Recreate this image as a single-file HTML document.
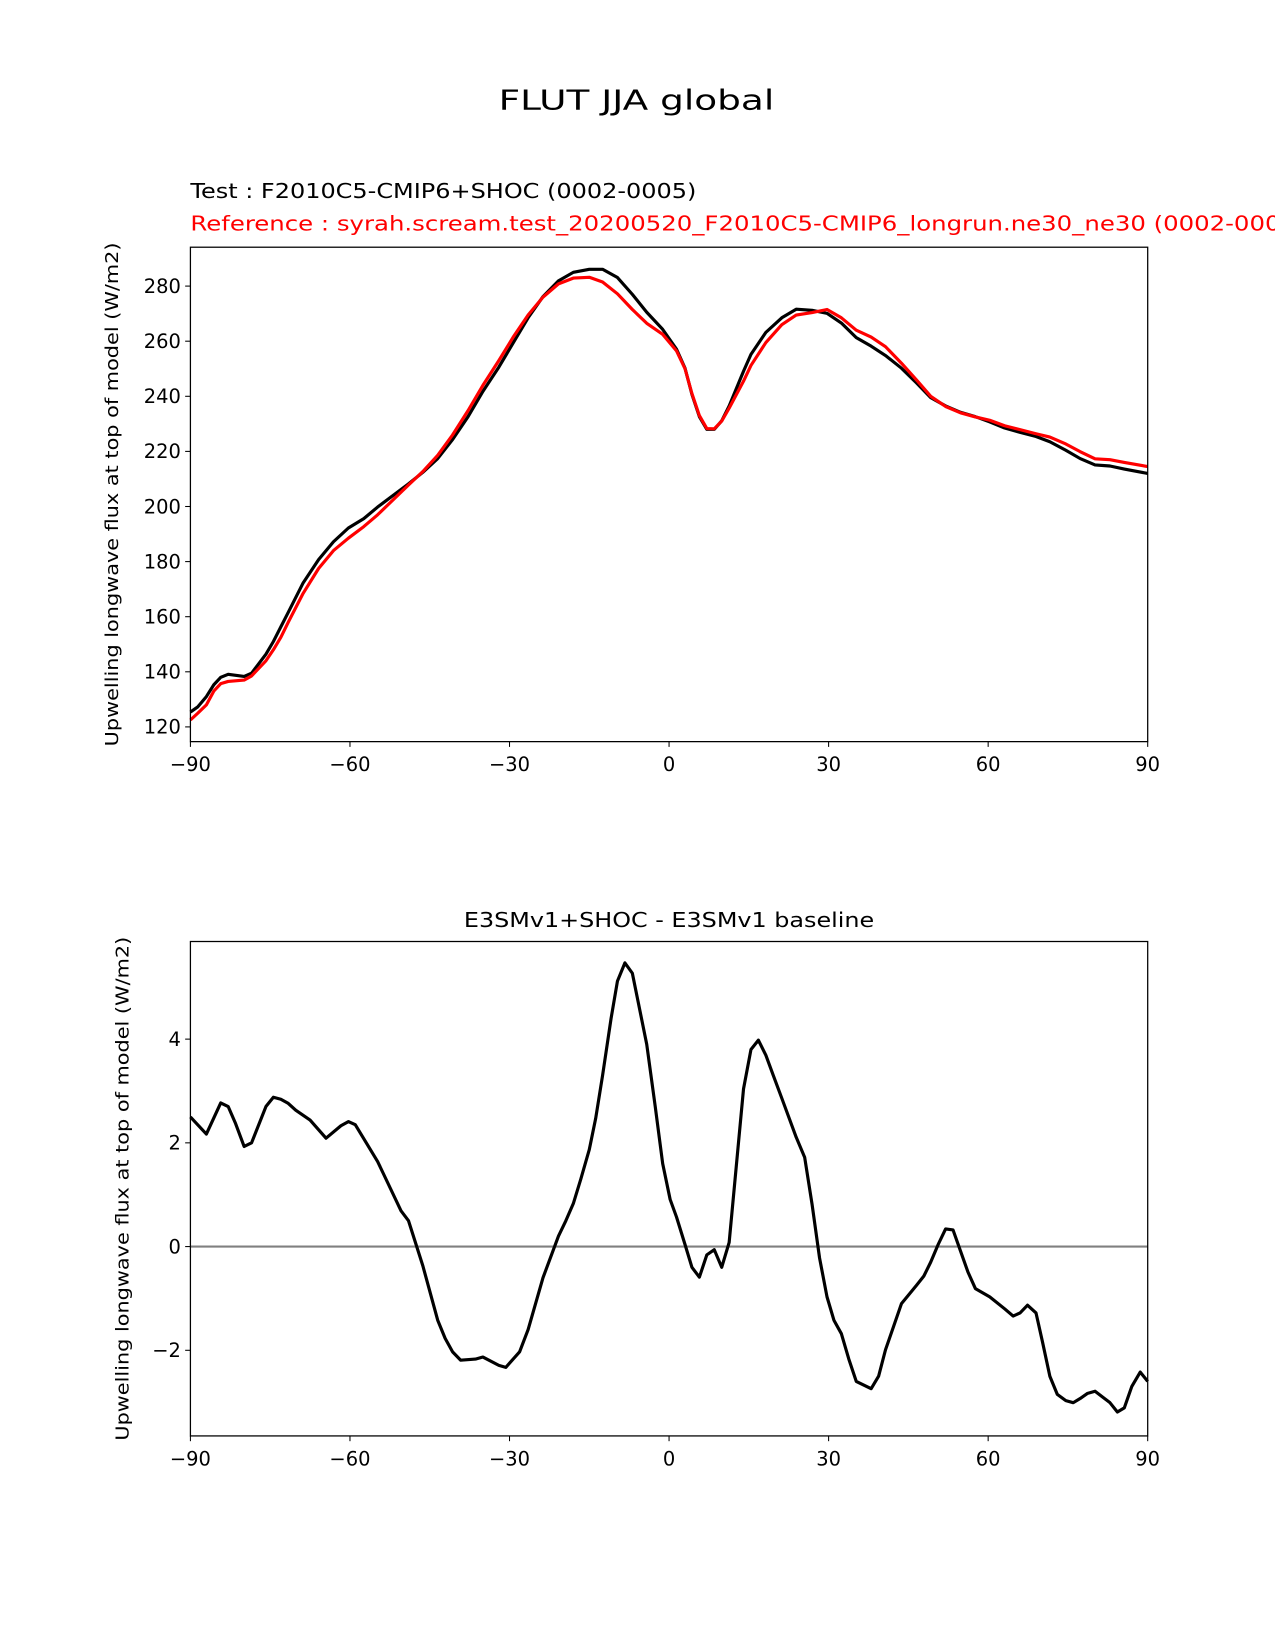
<!DOCTYPE html>
<html><head><meta charset="utf-8"><style>html,body{margin:0;padding:0;background:#fff}svg{display:block}</style></head>
<body>
<svg id="fig" width="1275" height="1650" viewBox="0 0 1212 1568.5" xmlns="http://www.w3.org/2000/svg" font-family="'DejaVu Sans','Liberation Sans',sans-serif">
<rect x="0" y="0" width="1212" height="1568.5" fill="#fff"/>
<text x="605" y="104" font-size="26" text-anchor="middle" textLength="262" lengthAdjust="spacingAndGlyphs">FLUT JJA global</text>
<text x="181" y="188" font-size="19" textLength="481" lengthAdjust="spacingAndGlyphs">Test : F2010C5-CMIP6+SHOC (0002-0005)</text>
<text x="181" y="219" font-size="19" fill="#ff0000" textLength="1060" lengthAdjust="spacingAndGlyphs">Reference : syrah.scream.test_20200520_F2010C5-CMIP6_longrun.ne30_ne30 (0002-0006)</text>
<text x="636" y="881" font-size="19" text-anchor="middle" textLength="390" lengthAdjust="spacingAndGlyphs">E3SMv1+SHOC - E3SMv1 baseline</text>
<g id="top"></g>
<g id="bot"></g>
</svg>
<script>
const lats = [-90,-88.6,-87,-85.6,-84.3,-82.9,-79.9,-78.5,-75.8,-74.4,-73,-71.6,-68.8,-65.9,-63.1,-60.3,-57.4,-54.8,-49,-46.3,-43.5,-40.7,-37.8,-35,-32,-29.3,-26.5,-23.7,-20.8,-18,-15,-12.5,-9.7,-6.9,-4.2,-1.2,1.4,3,4.3,5.7,7.1,8.5,9.9,11.3,14,15.4,18.2,21.2,23.9,26.9,29.7,32.4,35.2,38,40.7,43.7,46.5,49.2,52,54.8,57.6,60.3,63.1,66,69,71.6,74.6,77.3,80.1,82.9,85.6,90];
const testVals = [125.4,127.3,131,135.3,138,139.1,138.3,139.5,146.4,151,156.3,161.6,172.3,180.7,187.2,192.2,195.6,199.8,208.2,212.4,217.4,224.3,232.6,241.8,250.6,259.4,268.5,276.2,281.9,285,286.1,286.1,283.1,277,270.5,264.3,257.1,250.2,240.7,232.6,228,228,231.1,236.5,249.1,255.2,263.2,268.5,271.6,271.2,270.1,266.6,261.3,258.2,254.8,250.2,244.9,239.5,236.5,234.2,232.6,230.7,228.5,226.9,225.4,223.5,220.4,217.4,215.1,214.7,213.6,212];
const refVals = [122.5,125,128,133,135.7,136.5,137,138.5,144,148,152.5,158,168.5,177.5,184,188.5,192.7,197,207.8,212.7,218.6,226,234.8,244,253,261.5,269.5,276,280.8,282.9,283.2,281.5,277.2,271.5,266.5,262.5,256.5,250,241,233,228.3,228.2,231,235.7,245.5,251.2,259.5,266,269.5,270.4,271.5,268.5,264,261.5,258,252,246,240,236.3,234,232.5,231.3,229.3,227.9,226.4,225.2,222.7,219.9,217.3,217,216,214.5];
const diffLats = [-90,-87,-84.3,-82.9,-81.5,-79.9,-78.5,-75.8,-74.4,-73,-71.6,-70.2,-67.5,-64.5,-61.7,-60.3,-59,-54.8,-50.4,-49,-46.3,-43.5,-42.1,-40.7,-39.2,-36.4,-35,-32,-30.7,-28.1,-26.5,-23.7,-20.8,-19.4,-18,-16.6,-15,-13.8,-12.5,-10.9,-9.7,-8.3,-6.9,-4.2,-2.6,-1.2,0.2,1.4,3,4.3,5.7,7.1,8.5,9.9,11.3,14,15.4,16.8,18.2,19.6,21.2,23.9,25.5,26.9,28.3,29.7,31,32.4,33.8,35.2,38,39.4,40.7,43.7,46.5,47.9,49.2,50.6,52,53.4,56.2,57.6,60.3,63.1,64.7,66,67.4,69,70.2,71.6,73,74.6,76,77.3,78.7,80.1,82.9,84.3,85.6,87,88.6,90];
const diffVals = [2.5,2.17,2.77,2.7,2.37,1.93,2.0,2.7,2.88,2.84,2.76,2.63,2.44,2.09,2.33,2.41,2.35,1.64,0.69,0.5,-0.37,-1.42,-1.77,-2.03,-2.19,-2.17,-2.13,-2.29,-2.33,-2.03,-1.6,-0.6,0.2,0.5,0.83,1.3,1.87,2.47,3.3,4.4,5.12,5.47,5.27,3.9,2.7,1.6,0.91,0.57,0.04,-0.4,-0.59,-0.16,-0.06,-0.4,0.08,3.04,3.8,3.98,3.69,3.3,2.86,2.11,1.72,0.81,-0.22,-0.97,-1.42,-1.68,-2.17,-2.6,-2.74,-2.5,-1.99,-1.1,-0.75,-0.57,-0.3,0.04,0.34,0.32,-0.49,-0.81,-0.97,-1.2,-1.34,-1.28,-1.13,-1.28,-1.83,-2.5,-2.85,-2.97,-3.01,-2.93,-2.83,-2.79,-3.01,-3.19,-3.11,-2.7,-2.42,-2.6];
const xTicks = [-90,-60,-30,0,30,60,90];
const xTickLabels = ['\u221290','\u221260','\u221230','0','30','60','90'];
const topYTicks = [120,140,160,180,200,220,240,260,280];
const botYTicks = [-2,0,2,4];
const botYTickLabels = ['\u22122','0','2','4'];

const NS='http://www.w3.org/2000/svg';
function mk(parent,tag,attrs){const e=document.createElementNS(NS,tag);for(const k in attrs)e.setAttribute(k,attrs[k]);parent.appendChild(e);return e;}
const X0=181,X1=1091;
function xs(v){return X0+(v+90)/180*(X1-X0);}

function axes(g,top,bot,ymin,ymax,yt,ytl,ylabelX){
  const ys=v=>bot-(v-ymin)/(ymax-ymin)*(bot-top);
  xTicks.forEach((t,i)=>{
    const l=mk(g,'line',{x1:xs(t),x2:xs(t),y1:bot,y2:bot+5,stroke:'#000','stroke-width':1});
    
    
    const tx=mk(g,'text',{x:xs(t),y:bot+28,'font-size':18.5,'text-anchor':'middle'});
    tx.textContent=xTickLabels[i];
    
    
  });
  yt.forEach((t,i)=>{
    const l=mk(g,'line',{x1:X0-5,x2:X0,y1:ys(t),y2:ys(t),stroke:'#000','stroke-width':1});
    
    
    const tx=mk(g,'text',{x:X0-9,y:ys(t)+6.5,'font-size':18.5,'text-anchor':'end'});
    tx.textContent=ytl?ytl[i]:String(t);
    
    
  });
  const cy=(top+bot)/2;
  const yl=mk(g,'text',{x:ylabelX,y:cy,'font-size':17,'text-anchor':'middle',transform:`rotate(-90 ${ylabelX} ${cy})`,textLength:479,lengthAdjust:'spacingAndGlyphs'});
  yl.textContent='Upwelling longwave flux at top of model (W/m2)';
  
  
  return ys;
}
function line(g,xa,ya,ys,color,name){
  const d=xa.map((x,i)=>(i?'L':'M')+xs(x).toFixed(2)+' '+ys(ya[i]).toFixed(2)).join(' ');
  const p=mk(g,'path',{d:d,fill:'none',stroke:color,'stroke-width':3,'stroke-linejoin':'round'});
  
  
}
function frame(g,top,bot){
  const r=mk(g,'rect',{x:X0,y:top,width:X1-X0,height:bot-top,fill:'none',stroke:'#000','stroke-width':1.2});
  
  
}
const gt=document.getElementById('top');
const T0=235,T1=705;
const ysT=axes(gt,T0,T1,120-(705-691)/2.619,120+(691-235)/2.619,topYTicks,null,112);
line(gt,lats,testVals,ysT,'#000','test-line');
line(gt,lats,refVals,ysT,'#ff0000','reference-line');
frame(gt,T0,T1);
const gb=document.getElementById('bot');
const B0=895,B1=1365;
const ysB=axes(gb,B0,B1,-(1365-1185)/49.3,(1185-895)/49.3,botYTicks,botYTickLabels,122);
const z=mk(gb,'line',{x1:X0,x2:X1,y1:ysB(0),y2:ysB(0),stroke:'#808080','stroke-width':2});


line(gb,diffLats,diffVals,ysB,'#000','difference-line');
frame(gb,B0,B1);
</script>
</body></html>
